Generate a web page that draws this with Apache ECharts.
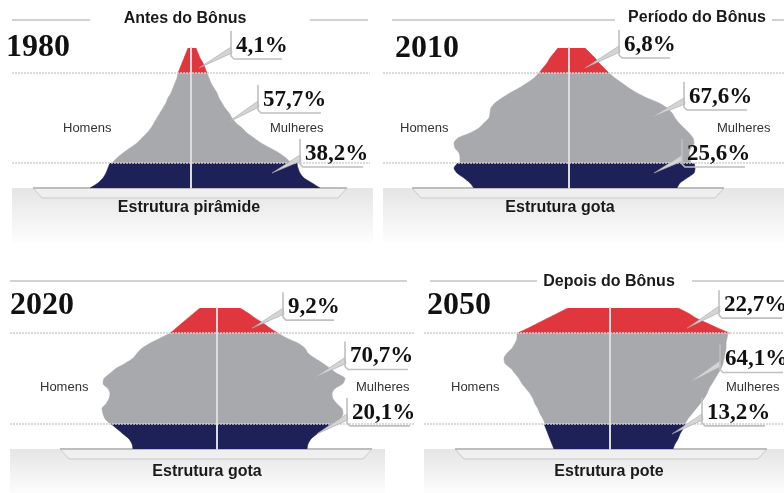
<!DOCTYPE html>
<html>
<head>
<meta charset="utf-8">
<script src="https://cdn.jsdelivr.net/npm/echarts@6/dist/echarts.min.js"></script>
<style>
html,body{margin:0;padding:0;background:#fff;}
#chart{width:784px;height:493px;}
</style>
</head>
<body>
<div id="chart"></div>
<script>
// ---------------- DATA ----------------
const years = ['1980', '2010', '2020', '2050'];
const phaseTitles = ['Antes do Bônus', 'Período do Bônus', '', 'Depois do Bônus'];
const structureNames = ['Estrutura pirâmide', 'Estrutura gota', 'Estrutura gota', 'Estrutura pote'];
const elderlyShare = [4.1, 6.8, 9.2, 22.7];
const workingShare = [57.7, 67.6, 70.7, 64.1];
const youngShare = [38.2, 25.6, 20.1, 13.2];

// pyramid outline (half-widths) per level; young = levels 0-5, working = 5-23, elderly = 23-28
const men1980Young = [101, 93, 88, 85, 83, 81];
const women1980Young = [129, 121, 113, 109, 107, 106];
const men1980Working = [79, 74, 68, 61, 54, 49, 44, 40, 37, 34, 31, 28, 25, 23, 20, 18, 16, 14, 13];
const women1980Working = [100, 95, 88, 79, 70, 63, 56, 51, 45, 41, 38, 34, 31, 28, 26, 23, 20, 18, 16];
const men1980Elderly = [13, 11, 9, 7, 5, 3];
const women1980Elderly = [16, 14, 12, 9, 7, 5];

const men2010Young = [95, 99, 105, 112, 115, 111];
const women2010Young = [108, 111, 118, 125, 126, 125];
const men2010Working = [109, 109, 110, 114, 115, 111, 99, 90, 85, 80, 79, 78, 74, 67, 59, 50, 42, 35, 30];
const women2010Working = [122, 121, 120, 122, 125, 124, 120, 115, 110, 106, 103, 98, 90, 78, 68, 60, 53, 46, 40];
const men2010Elderly = [30, 26, 22, 19, 15, 11];
const women2010Elderly = [40, 35, 30, 26, 21, 16];

const men2020Young = [84, 85, 88, 94, 100, 106];
const women2020Young = [90, 91, 94, 100, 107, 114];
const men2020Working = [107, 112, 114, 115, 111, 108, 107, 109, 114, 113, 107, 101, 92, 84, 80, 75, 67, 57, 47];
const women2020Working = [116, 123, 126, 125, 120, 116, 115, 118, 126, 128, 120, 113, 106, 98, 91, 88, 81, 70, 61];
const men2020Elderly = [47, 41, 35, 29, 23, 17];
const women2020Elderly = [61, 53, 46, 38, 31, 23];

const men2050Young = [56, 58, 60, 62, 64, 66];
const women2050Young = [63, 65, 68, 70, 73, 75];
const men2050Working = [65, 67, 70, 72, 75, 77, 80, 84, 88, 91, 95, 99, 105, 106, 103, 98, 95, 93, 93];
const women2050Working = [75, 78, 82, 86, 90, 94, 97, 99, 102, 105, 108, 111, 113, 114, 115, 116, 116, 117, 118];
const men2050Elderly = [93, 82, 72, 62, 52, 42];
const women2050Elderly = [120, 108, 97, 86, 78, 68];

const levelCount = 29;
const bandStart = [0, 5, 23];

// ---------------- LAYOUT / STYLE ----------------
const COLORS = ['#1e2157', '#a8a9ac', '#e0363d'];
const panels = [
  {grid: {left: 12, top: 48, width: 358, height: 140}, xMin: -179, xMax: 179,
   title: [185, 19], titleLines: [[12, 90], [310, 368]], topY: 20,
   year: [6, 48], homens: [63, 128], mulheres: [270, 128],
   floor: [12, 188, 361, 54], shelf: [33, 347, 188], struct: [189, 208],
   callouts: [[8, 24.4, 32, -23], [36, 13.2, 31, -24], [81, 2.6, 28, -20]]},
  {grid: {left: 383, top: 48, width: 401, height: 140}, xMin: -186, xMax: 215,
   title: [697, 18], titleLines: [[392, 615], [772, 784]], topY: 20,
   year: [395, 49], homens: [400, 128], mulheres: [717, 128],
   floor: [383, 188, 401, 54], shelf: [412, 724, 188], struct: [560, 208],
   callouts: [[16, 24.2, 34, -24], [81, 13.6, 34, -22], [85, 2.6, 28, -20]]},
  {grid: {left: 10, top: 308, width: 405, height: 141}, xMin: -207, xMax: 198,
   title: null, titleLines: [[10, 407]], topY: 281,
   year: [10, 306], homens: [40, 387], mulheres: [356, 387],
   floor: [10, 449, 375, 44], shelf: [60, 372, 449], struct: [207, 472],
   callouts: [[35, 24.2, 31, -22], [96, 13.7, 32, -23], [100, 2.8, 30, -22]]},
  {grid: {left: 424, top: 308, width: 360, height: 141}, xMin: -186, xMax: 174,
   title: [609, 282], titleLines: [[430, 537], [692, 784]], topY: 281,
   year: [427, 306], homens: [451, 387], mulheres: [726, 387],
   floor: [424, 449, 360, 44], shelf: [455, 767, 449], struct: [609, 472],
   callouts: [[77, 24.4, 32, -24], [78, 13.3, 32, -25], [62, 2.8, 30, -22]]}
];

const outline = [
  [[men1980Young, women1980Young], [men1980Working, women1980Working], [men1980Elderly, women1980Elderly]],
  [[men2010Young, women2010Young], [men2010Working, women2010Working], [men2010Elderly, women2010Elderly]],
  [[men2020Young, women2020Young], [men2020Working, women2020Working], [men2020Elderly, women2020Elderly]],
  [[men2050Young, women2050Young], [men2050Working, women2050Working], [men2050Elderly, women2050Elderly]]
];

const fmt = v => v.toFixed(1).replace('.', ',') + '%';
const levels = Array.from({length: levelCount}, (_, i) => String(i));

const grids = [], xAxes = [], yAxes = [], series = [], graphics = [];

panels.forEach((P, p) => {
  grids.push(Object.assign({containLabel: false}, P.grid));
  xAxes.push({type: 'value', gridIndex: p, min: P.xMin, max: P.xMax, show: false});
  yAxes.push({
    type: 'category', gridIndex: p, data: levels, boundaryGap: false, z: 3,
    axisLabel: {show: false}, axisTick: {show: false},
    axisLine: {show: true, onZero: true, lineStyle: {color: '#dcdcdc', width: 2}},
    splitLine: {show: true, interval: (i) => i === 5 || i === 23,
      lineStyle: {color: '#cfcfcf', width: 1.5, type: [2, 1]}}
  });
  // floor (behind)
  const f = P.floor;
  graphics.push({type: 'rect', z: -10, shape: {x: f[0], y: f[1], width: f[2], height: f[3]},
    style: {fill: new echarts.graphic.LinearGradient(0, 0, 0, 1, [
      {offset: 0, color: '#e5e5e5'}, {offset: 1, color: '#fdfdfd'}])}});
  const s = P.shelf;
  graphics.push({type: 'polygon', z: -9, shape: {points: [[s[0], s[2]], [s[0] + 9, s[2] + 10], [s[1] - 9, s[2] + 10], [s[1], s[2]]]},
    style: {fill: '#efefef', stroke: '#c9c9c9', lineWidth: 1}});
  graphics.push({type: 'line', z: -8, shape: {x1: s[0], y1: s[2], x2: s[1], y2: s[2]},
    style: {stroke: '#bdbdbd', lineWidth: 2}});
  // title lines
  P.titleLines.forEach(l => graphics.push({type: 'line', z: -5,
    shape: {x1: l[0], y1: P.topY, x2: l[1], y2: P.topY}, style: {stroke: '#d2d2d2', lineWidth: 2}}));
  if (P.title) graphics.push({type: 'text', x: P.title[0], y: P.title[1],
    style: {text: phaseTitles[p], font: 'bold 16px "Liberation Sans", Arial, sans-serif', fill: '#1a1a1a', align: 'center', verticalAlign: 'middle'}});
  graphics.push({type: 'text', x: P.year[0], y: P.year[1],
    style: {text: years[p], font: 'bold 32px "Liberation Serif", "Times New Roman", serif', fill: '#111', align: 'left', verticalAlign: 'middle'}});
  graphics.push({type: 'text', x: P.homens[0], y: P.homens[1],
    style: {text: 'Homens', font: '13px "Liberation Sans", Arial, sans-serif', fill: '#333', align: 'left', verticalAlign: 'middle'}});
  graphics.push({type: 'text', x: P.mulheres[0], y: P.mulheres[1],
    style: {text: 'Mulheres', font: '13px "Liberation Sans", Arial, sans-serif', fill: '#333', align: 'left', verticalAlign: 'middle'}});
  graphics.push({type: 'text', x: P.struct[0], y: P.struct[1],
    style: {text: structureNames[p], font: 'bold 16px "Liberation Sans", Arial, sans-serif', fill: '#1a1a1a', align: 'center', verticalAlign: 'middle'}});

  // pyramid bands
  outline[p].forEach((band, b) => {
    band.forEach((vals, side) => {
      const data = levels.map(() => '-');
      vals.forEach((v, k) => { data[bandStart[b] + k] = side === 0 ? -v : v; });
      series.push({
        type: 'line', xAxisIndex: p, yAxisIndex: p, data, smooth: 0.25,
        symbol: 'none', silent: true, z: 2,
        lineStyle: {width: 0.6, color: COLORS[b]},
        itemStyle: {color: COLORS[b]},
        areaStyle: {color: COLORS[b], opacity: 1}
      });
    });
  });

  // callouts
  const shares = [elderlyShare[p], workingShare[p], youngShare[p]];
  series.push({
    type: 'custom', xAxisIndex: p, yAxisIndex: p, z: 10, silent: true,
    data: P.callouts.map((c, i) => [c[0], c[1], fmt(shares[i])]),
    encode: {x: 0, y: 1},
    renderItem: (params, api) => {
      const c = P.callouts[params.dataIndex];
      const tip = api.coord([api.value(0), api.value(1)]);
      const label = fmt(shares[params.dataIndex]);
      const bl = tip[0] + c[2];
      const cy = tip[1] + c[3];
      const len = label.length * 12 + 3;
      return {type: 'group', children: [
        {type: 'polygon', shape: {points: [[bl, cy + 2], tip, [bl + 1, cy + 8]]},
          style: {fill: '#d4d4d4', stroke: '#a5a5a5', lineWidth: 0.6}},
        {type: 'polyline', shape: {points: [[bl, cy - 14], [bl, cy + 11], [bl + 3, cy + 14], [bl + len, cy + 14]]},
          style: {stroke: '#c0c0c0', lineWidth: 1.6, fill: null}},
        {type: 'text', x: bl + 5, y: cy + 1,
          style: {text: label, font: 'bold 23px "Liberation Serif", "Times New Roman", serif', fill: '#111', align: 'left', verticalAlign: 'middle'}}
      ]};
    }
  });
});

const chart = echarts.init(document.getElementById('chart'), null, {renderer: 'canvas'});
chart.setOption({
  animation: false,
  backgroundColor: '#ffffff',
  grid: grids, xAxis: xAxes, yAxis: yAxes, series,
  graphic: {elements: graphics}
});
</script>
</body>
</html>
